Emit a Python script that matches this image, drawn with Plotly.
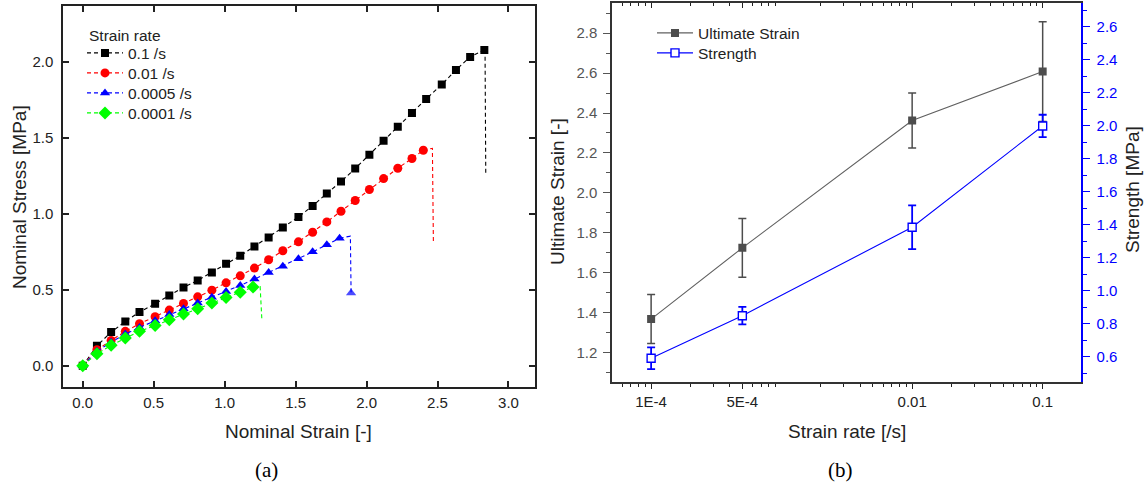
import plotly.graph_objects as go

# ---------------- panel (a): stress-strain curves ----------------
strain_01 = [0, 0.10, 0.20, 0.30, 0.40, 0.51, 0.61, 0.71, 0.81, 0.91, 1.01, 1.11, 1.21, 1.31,
             1.41, 1.52, 1.62, 1.72, 1.82, 1.92, 2.02, 2.12, 2.22, 2.32, 2.42, 2.53, 2.63, 2.73, 2.83,
             2.835, 2.84]
stress_01 = [0, 0.131, 0.221, 0.291, 0.353, 0.407, 0.462, 0.515, 0.561, 0.613, 0.670, 0.723, 0.784,
             0.843, 0.909, 0.979, 1.051, 1.133, 1.211, 1.297, 1.387, 1.479, 1.571, 1.663, 1.755, 1.849,
             1.945, 2.031, 2.077, 2.07, 1.266]

strain_001 = [0, 0.10, 0.20, 0.30, 0.40, 0.51, 0.61, 0.71, 0.81, 0.91, 1.01, 1.11, 1.21, 1.31,
              1.41, 1.52, 1.62, 1.72, 1.82, 1.92, 2.02, 2.12, 2.22, 2.32, 2.40, 2.464, 2.471]
stress_001 = [0, 0.105, 0.166, 0.226, 0.276, 0.322, 0.366, 0.410, 0.453, 0.497, 0.545, 0.591, 0.642,
              0.697, 0.756, 0.815, 0.878, 0.946, 1.016, 1.087, 1.159, 1.231, 1.299, 1.363, 1.417,
              1.43, 0.816]

strain_00005 = [0, 0.10, 0.20, 0.30, 0.40, 0.51, 0.61, 0.71, 0.81, 0.91, 1.01, 1.11, 1.21, 1.31,
                1.41, 1.52, 1.62, 1.72, 1.81, 1.886, 1.891]
stress_00005 = [0, 0.095, 0.155, 0.208, 0.252, 0.296, 0.337, 0.375, 0.412, 0.451, 0.488, 0.528,
                0.570, 0.613, 0.655, 0.703, 0.749, 0.795, 0.839, 0.852, 0.478]

strain_00001 = [0, 0.10, 0.20, 0.30, 0.40, 0.51, 0.61, 0.71, 0.81, 0.91, 1.01, 1.11, 1.20, 1.25, 1.262]
stress_00001 = [0, 0.079, 0.134, 0.182, 0.226, 0.265, 0.302, 0.340, 0.375, 0.412, 0.449, 0.484,
                0.517, 0.521, 0.307]

rate_names = ["0.1 /s", "0.01 /s", "0.0005 /s", "0.0001 /s"]

# ---------------- panel (b): ultimate strain & strength ----------------
rates = [1e-4, 5e-4, 1e-2, 1e-1]
rate_labels = ["1E-4", "5E-4", "0.01", "0.1"]
ult_strain = [1.367, 1.724, 2.362, 2.608]
ult_strain_err = [0.123, 0.147, 0.138, 0.25]
strength = [0.590, 0.848, 1.384, 1.998]
strength_err = [0.066, 0.053, 0.133, 0.068]

W, H = 1146, 486
FONT = "Liberation Sans, Arial, sans-serif"
SERIF = "Liberation Serif, Times New Roman, serif"
DARK = "#222222"
GRAY = "#555555"
BLUE = "#0000ff"


def fx(p):
    return p / W


def fy(p):
    return 1 - p / H


fig = go.Figure()

# dashed curves: marked samples, then the unmarked failure drop (the 0.0005 /s drop ends on a marker)
curve_specs = [
    (strain_01, stress_01, "#000000", "square", 8, 2, False, "legend"),
    (strain_001, stress_001, "#ff0000", "circle", 9, 2, False, "legend2"),
    (strain_00005, stress_00005, "#0000ff", "triangle-up", 9, 2, True, "legend3"),
    (strain_00001, stress_00001, "#00ff00", "diamond", 10, 2, False, "legend4"),
]
dash_line = "4px,3px"
for (sx, sy, col, sym, ms, ntail, end_marked, lg), name in zip(curve_specs, rate_names):
    n = len(sx) - ntail
    fig.add_trace(go.Scatter(
        x=sx[:n], y=sy[:n], name=name, mode="lines+markers",
        line=dict(color=col, width=1.1, dash=dash_line),
        marker=dict(symbol=sym, size=ms, color=col, line=dict(width=0)),
        xaxis="x", yaxis="y", legend=lg,
    ))
    tail_sizes = [0] * (ntail + 1)
    if end_marked:
        tail_sizes[-1] = ms
    fig.add_trace(go.Scatter(
        x=sx[n - 1:], y=sy[n - 1:], mode="lines+markers", showlegend=False,
        line=dict(color=col, width=1.1, dash=dash_line),
        marker=dict(symbol=sym, size=tail_sizes, color=col, line=dict(width=0)),
        xaxis="x", yaxis="y", hoverinfo="skip",
    ))

fig.add_trace(go.Scatter(
    x=rates, y=ult_strain, name="Ultimate Strain", mode="lines+markers",
    line=dict(color="#606060", width=1.1),
    marker=dict(symbol="square", size=8, color="#4d4d4d"),
    error_y=dict(type="data", array=ult_strain_err, color="#4d4d4d", thickness=1.5, width=4),
    xaxis="x2", yaxis="y2", legend="legend5",
))
fig.add_trace(go.Scatter(
    x=rates, y=strength, name="Strength", mode="lines+markers",
    line=dict(color=BLUE, width=1.1),
    marker=dict(symbol="square", size=8, color="white", line=dict(color=BLUE, width=1.4)),
    error_y=dict(type="data", array=strength_err, color=BLUE, thickness=1.8, width=4),
    xaxis="x2", yaxis="y3", legend="legend6",
))
# carrier for the inward ticks along the top edge of panel (b)
fig.add_trace(go.Scatter(x=rates, y=ult_strain, mode="none", xaxis="x3", yaxis="y2",
                         showlegend=False, hoverinfo="skip"))

tickfont = dict(family=FONT, size=15, color=DARK)

ticks_a = [0, 0.5, 1.0, 1.5, 2.0, 2.5, 3.0]
ticks_a_y = [0, 0.5, 1.0, 1.5, 2.0]
minor_rates = [m * 10.0 ** e for e in (-5, -4, -3, -2, -1) for m in range(2, 10)]
minor_rates = [v for v in minor_rates if 5e-5 < v < 0.198 and abs(v - 5e-4) > 1e-9]
left_major = [1.2, 1.4, 1.6, 1.8, 2.0, 2.2, 2.4, 2.6, 2.8]
left_minor = [1.1, 1.3, 1.5, 1.7, 1.9, 2.1, 2.3, 2.5, 2.7, 2.9]
right_major = [0.6, 0.8, 1.0, 1.2, 1.4, 1.6, 1.8, 2.0, 2.2, 2.4, 2.6]
right_minor = [0.5, 0.7, 0.9, 1.1, 1.3, 1.5, 1.7, 1.9, 2.1, 2.3, 2.5, 2.7]

fig.update_layout(
    width=W, height=H,
    margin=dict(l=0, r=0, t=0, b=0),
    paper_bgcolor="white", plot_bgcolor="white",
    font=dict(family=FONT, color=DARK),
    xaxis=dict(
        domain=[fx(63.3), fx(535)], anchor="y", range=[-0.137, 3.187],
        tickmode="array", tickvals=ticks_a, ticktext=[f"{v:.1f}" for v in ticks_a],
        ticks="inside", ticklen=6, tickwidth=1.5, tickcolor=DARK, mirror="ticks",
        showline=True, linecolor=DARK, linewidth=2, showgrid=False, zeroline=False,
        tickfont=tickfont, ticklabelstandoff=1,
    ),
    yaxis=dict(
        domain=[fy(386.7), fy(5.7)], anchor="x", range=[-0.138, 2.368],
        tickmode="array", tickvals=ticks_a_y, ticktext=[f"{v:.1f}" for v in ticks_a_y],
        ticks="inside", ticklen=6, tickwidth=1.5, tickcolor=DARK, mirror="ticks",
        showline=True, linecolor=DARK, linewidth=2, showgrid=False, zeroline=False,
        tickfont=tickfont, ticklabelstandoff=5,
    ),
    xaxis2=dict(
        domain=[fx(611.7), fx(1081.3)], anchor="y2", type="log", range=[-4.302, -0.704],
        tickmode="array", tickvals=rates, ticktext=rate_labels,
        ticks="outside", ticklen=5, tickwidth=1.3, tickcolor=DARK,
        minor=dict(tickmode="array", tickvals=minor_rates, ticks="outside", ticklen=3,
                   tickwidth=1, tickcolor=DARK, showgrid=False),
        showline=True, mirror=True, linecolor="#333333", linewidth=1.6,
        showgrid=False, zeroline=False, tickfont=tickfont, ticklabelstandoff=0,
    ),
    xaxis3=dict(
        overlaying="x2", anchor="y2", side="top", type="log", range=[-4.302, -0.704],
        tickmode="array", tickvals=rates, ticks="inside", ticklen=5, tickwidth=1.3,
        tickcolor=DARK, showticklabels=False, showline=False, showgrid=False, zeroline=False,
        minor=dict(tickmode="array", tickvals=minor_rates, ticks="inside", ticklen=3,
                   tickwidth=1, tickcolor=DARK, showgrid=False),
    ),
    yaxis2=dict(
        domain=[fy(381.7), fy(2.7)], anchor="x2", range=[1.053, 2.953],
        tickmode="array", tickvals=left_major, ticktext=[f"{v:.1f}" for v in left_major],
        ticks="outside", ticklen=6.5, tickwidth=1.3, tickcolor=GRAY,
        minor=dict(tickmode="array", tickvals=left_minor, ticks="outside", ticklen=4,
                   tickwidth=1, tickcolor=GRAY, showgrid=False),
        showline=True, linecolor="#333333", linewidth=1.6, showgrid=False, zeroline=False,
        tickfont=dict(family=FONT, size=15, color=GRAY), ticklabelstandoff=3,
    ),
    yaxis3=dict(
        overlaying="y2", anchor="x2", side="right", range=[0.448, 2.745],
        tickmode="array", tickvals=right_major, ticktext=[f"{v:.1f}" for v in right_major],
        ticks="outside", ticklen=6.5, tickwidth=1.3, tickcolor=BLUE,
        minor=dict(tickmode="array", tickvals=right_minor, ticks="outside", ticklen=4,
                   tickwidth=1, tickcolor=BLUE, showgrid=False),
        showline=True, linecolor=BLUE, linewidth=1.6, showgrid=False, zeroline=False,
        tickfont=dict(family=FONT, size=15, color=BLUE), ticklabelstandoff=4,
    ),
)

# one legend box per entry so the rows sit at the exact spacing
legend_font = dict(family=FONT, size=15.5, color=DARK)
legend_rows = {
    "legend": (82, 53.3, 36), "legend2": (82, 73.3, 36), "legend3": (82, 93.3, 36),
    "legend4": (82, 113.3, 36), "legend5": (652, 33.3, 36), "legend6": (652, 53.3, 36),
}
for key, (lx, ly, iw) in legend_rows.items():
    fig.update_layout({key: dict(
        x=fx(lx), y=fy(ly), xanchor="left", yanchor="middle", itemwidth=iw,
        bgcolor="rgba(0,0,0,0)", borderwidth=0, font=legend_font,
        itemclick=False, itemdoubleclick=False,
    )})

title_font = dict(family=FONT, size=19, color=DARK)
annotations = [
    dict(text="Strain rate", x=fx(87), y=fy(35.5), xanchor="left", yanchor="middle",
         font=dict(family=FONT, size=15.5, color=DARK)),
    dict(text="Nominal Strain [-]", x=fx(298), y=fy(431), xanchor="center", yanchor="middle",
         font=title_font),
    dict(text="Nominal Stress [MPa]", x=fx(19), y=fy(197), xanchor="center", yanchor="middle",
         textangle=-90, font=title_font),
    dict(text="Strain rate [/s]", x=fx(846.5), y=fy(431), xanchor="center", yanchor="middle",
         font=title_font),
    dict(text="Ultimate Strain [-]", x=fx(557), y=fy(192), xanchor="center", yanchor="middle",
         textangle=-90, font=title_font),
    dict(text="Strength [MPa]", x=fx(1132), y=fy(190), xanchor="center", yanchor="middle",
         textangle=-90, font=title_font),
    dict(text="(a)", x=fx(266), y=fy(470), xanchor="center", yanchor="middle",
         font=dict(family=SERIF, size=21, color="#000000")),
    dict(text="(b)", x=fx(840.5), y=fy(470), xanchor="center", yanchor="middle",
         font=dict(family=SERIF, size=21, color="#000000")),
]
for a in annotations:
    a.update(xref="paper", yref="paper", showarrow=False)
fig.update_layout(annotations=annotations)

fig.write_html("out.html")
